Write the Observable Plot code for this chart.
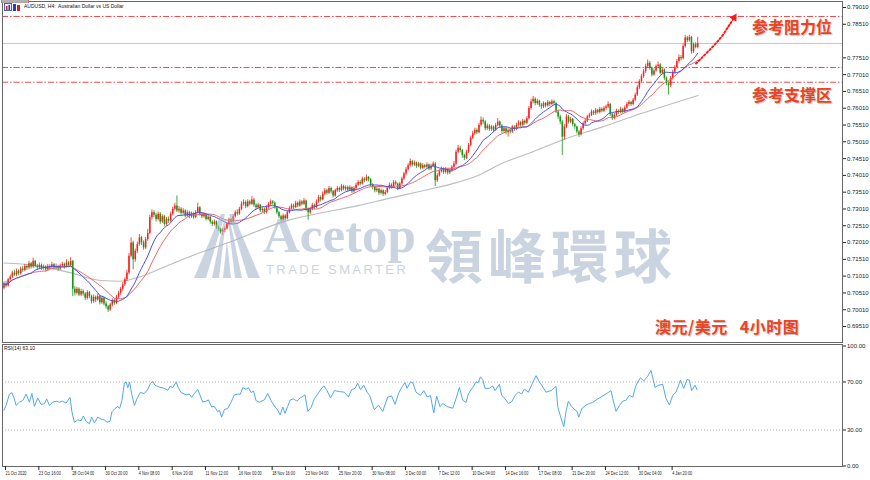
<!DOCTYPE html>
<html><head><meta charset="utf-8">
<script src="https://cdn.jsdelivr.net/npm/d3@7"></script>
<script src="https://cdn.jsdelivr.net/npm/@observablehq/plot@0.6"></script>
<style>
body{margin:0;background:#fff;}
#wrap{position:relative;width:870px;height:480px;overflow:hidden;font-family:"Liberation Sans",Arial,sans-serif;background:#fff;}
#main,#rsi{position:absolute;left:0;}
#main{top:0;} #rsi{top:342px;}
.ov{position:absolute;white-space:nowrap;line-height:1;}
.cn{font-family:"Noto Sans CJK SC",sans-serif;font-weight:700;color:#ee4322;text-shadow:1px 1px 1px rgba(0,0,0,.25);}
.sq{transform:scaleX(0.86);transform-origin:0 0;}
#wm{position:absolute;left:0;top:0;width:870px;height:340px;opacity:.55;pointer-events:none;}
</style></head><body><div id="wrap">
<div id="main"></div><div id="rsi"></div>
<div id="wm">
  <svg class="ov" style="left:192px;top:210px" width="70" height="70" viewBox="0 0 70 70">
    <g fill="#9fb2c8">
      <polygon points="2,68 14,68 33,4 29,4"/>
      <polygon points="68,68 56,68 37,4 41,4"/>
      <polygon points="20,68 27,68 34,10 32,10"/>
      <polygon points="50,68 43,68 36,10 38,10"/>
      <polygon points="31,68 39,68 35,30"/>
    </g>
  </svg>
  <div class="ov" style="left:263px;top:206px;font:bold 51px 'Liberation Serif',serif;color:#9fb2c8;">Acetop</div>
  <div class="ov" style="left:425px;top:211px;font:700 58px 'Noto Sans CJK TC',sans-serif;color:#9fb2c8;letter-spacing:5px;">領峰環球</div>
  <div class="ov" style="left:266px;top:262px;font:13px 'Liberation Sans',sans-serif;color:#9fb2c8;letter-spacing:2.4px;">TRADE SMARTER</div>
</div>
<svg class="ov" style="left:4px;top:3px" width="17" height="9"><rect x="0.5" y="0.5" width="7" height="7" fill="#e8e8ff" stroke="#5060c0"/><rect x="2" y="3" width="1.5" height="4" fill="#d02020"/><rect x="4.5" y="2" width="1.5" height="5" fill="#2040c0"/><rect x="9" y="1" width="3" height="7" fill="#2040c0"/><rect x="13" y="2" width="3" height="6" fill="#d02020"/></svg>
<div class="ov sq" style="left:24px;top:4px;font-size:5.8px;color:#111;">AUDUSD, H4:&nbsp; Australian Dollar vs US Dollar</div>
<div class="ov sq" style="left:4px;top:346px;font-size:5.8px;color:#111;">RSI(14) 63.10</div>
<div class="ov cn" style="left:752px;top:18px;font-size:16px;">参考阻力位</div>
<div class="ov cn" style="left:752px;top:86px;font-size:16px;">参考支撑区</div>
<div class="ov cn" style="left:655px;top:318px;font-size:16px;letter-spacing:0.5px;">澳元/美元<span style="display:inline-block;width:12px"></span>4小时图</div>
</div>
<script>
const firstOpen = 0.7065;
const closes = [0.7078,0.7072,0.7090,0.7098,0.7110,0.7104,0.7115,0.7108,0.7122,0.7118,
0.7130,0.7125,0.7138,0.7128,0.7145,0.7130,0.7126,0.7133,0.7124,0.7128,
0.7120,0.7130,0.7127,0.7135,0.7126,0.7130,0.7122,0.7131,0.7136,0.7128,
0.7140,0.7132,0.7145,0.7062,0.7050,0.7062,0.7045,0.7055,0.7048,0.7035,
0.7052,0.7040,0.7025,0.7038,0.7030,0.7040,0.7022,0.7035,0.7018,0.7010,
0.7000,0.7015,0.7028,0.7020,0.7038,0.7050,0.7062,0.7075,0.7090,0.7110,
0.7160,0.7200,0.7150,0.7175,0.7195,0.7215,0.7200,0.7185,0.7210,0.7228,
0.7275,0.7290,0.7282,0.7270,0.7285,0.7262,0.7278,0.7255,0.7270,0.7265,
0.7285,0.7300,0.7310,0.7295,0.7300,0.7288,0.7295,0.7280,0.7290,0.7278,
0.7286,0.7275,0.7290,0.7305,0.7285,0.7278,0.7284,0.7270,0.7276,0.7262,
0.7255,0.7262,0.7245,0.7240,0.7232,0.7238,0.7242,0.7255,0.7268,0.7262,
0.7278,0.7290,0.7286,0.7300,0.7315,0.7320,0.7308,0.7322,0.7315,0.7328,
0.7312,0.7305,0.7312,0.7296,0.7300,0.7290,0.7305,0.7315,0.7322,0.7318,
0.7305,0.7290,0.7278,0.7268,0.7280,0.7272,0.7290,0.7302,0.7310,0.7305,
0.7318,0.7310,0.7322,0.7315,0.7325,0.7300,0.7290,0.7300,0.7312,0.7305,
0.7322,0.7335,0.7328,0.7345,0.7355,0.7348,0.7362,0.7352,0.7340,0.7355,
0.7362,0.7356,0.7368,0.7360,0.7365,0.7357,0.7364,0.7352,0.7362,0.7372,
0.7380,0.7375,0.7390,0.7385,0.7395,0.7388,0.7372,0.7365,0.7355,0.7360,
0.7348,0.7355,0.7345,0.7350,0.7362,0.7372,0.7365,0.7380,0.7375,0.7362,
0.7375,0.7390,0.7405,0.7418,0.7430,0.7442,0.7432,0.7438,0.7428,0.7435,
0.7422,0.7430,0.7425,0.7432,0.7420,0.7428,0.7435,0.7385,0.7400,0.7412,
0.7420,0.7410,0.7418,0.7408,0.7415,0.7425,0.7435,0.7470,0.7482,0.7475,
0.7460,0.7452,0.7470,0.7490,0.7512,0.7525,0.7535,0.7528,0.7550,0.7565,
0.7560,0.7540,0.7548,0.7538,0.7545,0.7535,0.7550,0.7560,0.7548,0.7532,
0.7540,0.7528,0.7535,0.7530,0.7545,0.7538,0.7550,0.7558,0.7550,0.7562,
0.7556,0.7570,0.7600,0.7620,0.7628,0.7615,0.7622,0.7610,0.7605,0.7615,
0.7608,0.7618,0.7612,0.7620,0.7615,0.7590,0.7575,0.7560,0.7515,0.7545,
0.7575,0.7560,0.7568,0.7552,0.7545,0.7530,0.7522,0.7540,0.7555,0.7562,
0.7575,0.7580,0.7590,0.7585,0.7595,0.7588,0.7598,0.7592,0.7600,0.7605,
0.7612,0.7582,0.7570,0.7580,0.7592,0.7588,0.7598,0.7590,0.7602,0.7612,
0.7618,0.7612,0.7625,0.7640,0.7662,0.7680,0.7695,0.7710,0.7725,0.7735,
0.7720,0.7700,0.7712,0.7725,0.7730,0.7705,0.7715,0.7690,0.7675,0.7668,
0.7690,0.7708,0.7722,0.7740,0.7752,0.7748,0.7785,0.7810,0.7802,0.7812,
0.7770,0.7790,0.7782,0.7794];
const highs = [0.7084,0.7086,0.7094,0.7104,0.7116,0.7118,0.7122,0.7120,0.7128,0.7130,
0.7136,0.7134,0.7145,0.7142,0.7155,0.7148,0.7136,0.7140,0.7137,0.7134,
0.7132,0.7136,0.7135,0.7142,0.7138,0.7137,0.7133,0.7137,0.7142,0.7140,
0.7150,0.7145,0.7156,0.7148,0.7070,0.7068,0.7066,0.7062,0.7060,0.7052,
0.7058,0.7055,0.7044,0.7045,0.7042,0.7048,0.7043,0.7040,0.7038,0.7025,
0.7014,0.7020,0.7034,0.7032,0.7044,0.7056,0.7068,0.7082,0.7096,0.7118,
0.7168,0.7215,0.7205,0.7182,0.7202,0.7225,0.7220,0.7206,0.7216,0.7240,
0.7282,0.7298,0.7296,0.7288,0.7292,0.7290,0.7284,0.7282,0.7276,0.7277,
0.7292,0.7306,0.7318,0.7340,0.7308,0.7305,0.7302,0.7298,0.7296,0.7294,
0.7292,0.7290,0.7296,0.7318,0.7308,0.7290,0.7290,0.7287,0.7282,0.7279,
0.7266,0.7268,0.7265,0.7250,0.7244,0.7243,0.7248,0.7260,0.7274,0.7273,
0.7284,0.7296,0.7298,0.7306,0.7322,0.7328,0.7325,0.7328,0.7327,0.7338,
0.7332,0.7316,0.7318,0.7315,0.7306,0.7304,0.7310,0.7320,0.7328,0.7326,
0.7322,0.7308,0.7294,0.7282,0.7286,0.7284,0.7295,0.7308,0.7316,0.7315,
0.7324,0.7322,0.7328,0.7326,0.7332,0.7328,0.7304,0.7306,0.7318,0.7316,
0.7328,0.7342,0.7340,0.7352,0.7362,0.7360,0.7368,0.7366,0.7356,0.7360,
0.7368,0.7366,0.7374,0.7372,0.7370,0.7369,0.7370,0.7367,0.7368,0.7378,
0.7386,0.7385,0.7396,0.7394,0.7402,0.7398,0.7392,0.7376,0.7368,0.7366,
0.7363,0.7360,0.7358,0.7356,0.7368,0.7378,0.7376,0.7386,0.7385,0.7378,
0.7380,0.7396,0.7410,0.7424,0.7436,0.7450,0.7446,0.7444,0.7441,0.7440,
0.7438,0.7436,0.7434,0.7438,0.7435,0.7434,0.7441,0.7440,0.7406,0.7418,
0.7426,0.7424,0.7424,0.7421,0.7420,0.7430,0.7442,0.7476,0.7490,0.7488,
0.7478,0.7464,0.7476,0.7496,0.7518,0.7532,0.7542,0.7540,0.7556,0.7575,
0.7572,0.7564,0.7554,0.7552,0.7550,0.7548,0.7556,0.7570,0.7563,0.7552,
0.7546,0.7544,0.7540,0.7541,0.7550,0.7549,0.7556,0.7564,0.7562,0.7568,
0.7566,0.7576,0.7606,0.7628,0.7636,0.7632,0.7628,0.7625,0.7615,0.7620,
0.7618,0.7624,0.7622,0.7626,0.7625,0.7618,0.7594,0.7580,0.7565,0.7552,
0.7582,0.7580,0.7574,0.7571,0.7556,0.7548,0.7535,0.7546,0.7560,0.7568,
0.7580,0.7586,0.7596,0.7594,0.7600,0.7598,0.7604,0.7602,0.7606,0.7610,
0.7620,0.7615,0.7586,0.7586,0.7598,0.7596,0.7604,0.7601,0.7608,0.7618,
0.7624,0.7622,0.7630,0.7646,0.7668,0.7686,0.7702,0.7716,0.7732,0.7745,
0.7740,0.7724,0.7718,0.7730,0.7738,0.7734,0.7720,0.7718,0.7694,0.7680,
0.7696,0.7714,0.7728,0.7746,0.7760,0.7758,0.7792,0.7818,0.7815,0.7818,
0.7815,0.7795,0.7796,0.7812];
const lows = [0.7060,0.7066,0.7068,0.7086,0.7094,0.7100,0.7100,0.7102,0.7104,0.7112,
0.7114,0.7118,0.7120,0.7122,0.7124,0.7126,0.7118,0.7120,0.7118,0.7119,
0.7114,0.7116,0.7121,0.7123,0.7120,0.7121,0.7116,0.7118,0.7126,0.7122,
0.7125,0.7127,0.7128,0.7040,0.7042,0.7045,0.7040,0.7040,0.7041,0.7028,
0.7030,0.7034,0.7018,0.7020,0.7022,0.7026,0.7015,0.7017,0.7012,0.7003,
0.6993,0.6996,0.7010,0.7014,0.7016,0.7032,0.7044,0.7056,0.7070,0.7085,
0.7105,0.7155,0.7120,0.7142,0.7168,0.7190,0.7192,0.7178,0.7180,0.7205,
0.7224,0.7268,0.7275,0.7262,0.7265,0.7255,0.7258,0.7248,0.7250,0.7258,
0.7260,0.7280,0.7295,0.7290,0.7288,0.7282,0.7283,0.7274,0.7276,0.7272,
0.7273,0.7270,0.7272,0.7286,0.7280,0.7272,0.7273,0.7265,0.7266,0.7256,
0.7249,0.7250,0.7240,0.7234,0.7226,0.7222,0.7230,0.7238,0.7250,0.7256,
0.7258,0.7274,0.7280,0.7282,0.7296,0.7310,0.7302,0.7304,0.7310,0.7312,
0.7306,0.7298,0.7300,0.7290,0.7290,0.7284,0.7286,0.7300,0.7310,0.7312,
0.7300,0.7284,0.7272,0.7262,0.7264,0.7266,0.7268,0.7286,0.7298,0.7299,
0.7302,0.7305,0.7306,0.7310,0.7311,0.7294,0.7267,0.7284,0.7296,0.7299,
0.7302,0.7318,0.7322,0.7325,0.7340,0.7342,0.7344,0.7346,0.7334,0.7336,
0.7350,0.7350,0.7352,0.7355,0.7354,0.7352,0.7353,0.7347,0.7348,0.7358,
0.7368,0.7369,0.7372,0.7379,0.7382,0.7382,0.7366,0.7358,0.7349,0.7350,
0.7342,0.7343,0.7338,0.7340,0.7346,0.7358,0.7360,0.7362,0.7370,0.7356,
0.7358,0.7372,0.7386,0.7400,0.7414,0.7426,0.7426,0.7427,0.7422,0.7424,
0.7417,0.7418,0.7420,0.7421,0.7415,0.7416,0.7424,0.7368,0.7380,0.7396,
0.7408,0.7404,0.7405,0.7402,0.7404,0.7410,0.7420,0.7430,0.7465,0.7468,
0.7452,0.7445,0.7448,0.7466,0.7486,0.7508,0.7520,0.7522,0.7525,0.7545,
0.7552,0.7534,0.7535,0.7532,0.7532,0.7528,0.7532,0.7546,0.7542,0.7526,
0.7528,0.7522,0.7515,0.7524,0.7526,0.7532,0.7534,0.7545,0.7544,0.7546,
0.7550,0.7552,0.7566,0.7595,0.7614,0.7608,0.7610,0.7604,0.7598,0.7600,
0.7602,0.7604,0.7606,0.7608,0.7610,0.7585,0.7568,0.7552,0.7460,0.7505,
0.7540,0.7554,0.7555,0.7546,0.7538,0.7524,0.7514,0.7518,0.7535,0.7550,
0.7558,0.7570,0.7576,0.7579,0.7580,0.7583,0.7584,0.7587,0.7588,0.7595,
0.7600,0.7576,0.7564,0.7566,0.7576,0.7582,0.7584,0.7585,0.7586,0.7598,
0.7606,0.7606,0.7608,0.7620,0.7636,0.7656,0.7675,0.7690,0.7705,0.7720,
0.7714,0.7694,0.7696,0.7708,0.7720,0.7700,0.7700,0.7684,0.7668,0.7640,
0.7662,0.7685,0.7703,0.7718,0.7735,0.7742,0.7745,0.7780,0.7796,0.7798,
0.7762,0.7764,0.7778,0.7778];
const grayBar = [0,14.4,30.7,46.6,56.2,65.8,78.7,94.6,110.4,126.7,136.3,153.6,170,185.8,201.6,218,227.6,238.6,253,267.4,286.6,305.8,333.2];
const grayVal = [0.7140,0.7133,0.7113,0.7088,0.7086,0.7100,0.7133,0.7172,0.7207,0.7247,0.7267,0.7291,0.7311,0.7334,0.7356,0.7381,0.7401,0.7436,0.7469,0.7505,0.7544,0.7585,0.7639];
const rsiBar = [0,1,2.6,3.7,5,5.8,7.4,9,10.6,12.2,13.4,14.6,16.2,17.8,19.4,20.5,21.8,23.4,25,26.6,28.2,29.8,31.7,32.6,33.8,35.4,37,38.1,39.4,41,42.1,43.4,45,46.6,48.2,49.4,50.9,51.8,53.3,54.6,55.5,56.6,57.8,58.7,59.4,60.3,61.3,62.6,63.8,65.4,67.4,69,70.2,71.4,72.5,74.6,77,78.6,79.8,81,82.6,83.7,85,87.4,89,90.1,91.4,93,94.2,95.4,97,98.1,99.7,101,102.6,103.4,104.5,105.8,107.4,109,110.6,112.2,113.4,114.6,116.2,117.3,118.6,119.8,121,122.6,125,126.6,128.2,130.1,131.4,132.6,133.8,134.9,136.2,137.4,139,140.6,142.2,
144.5,145.8,147.4,149,150.6,152.2,153.5,155.1,156.7,158.6,161,163.4,165.3,166.9,168.5,169.8,171.1,172.7,174.3,175.5,177.8,179.7,181.8,184.2,186.1,187.7,189.3,190.9,192.5,193.5,195.1,196.2,197.8,199.9,201.5,203.1,204.7,206.3,207.7,209.3,210.6,212.7,215.4,217,218.6,220.2,221.8,222.9,225,226.6,227.7,228.7,229.8,230.9,233,234.6,235.7,237.8,238.9,240.5,242.1,243.7,245.3,246.9,248.5,249.8,251.7,253.8,255.4,257,258.1,260.2,262.6,265,265.8,267.1,268.7,269.8,270.9,272.5,274.1,275.1,275.9,277.5,279.4,281,282.6,284.7,286.6,289,291.4,292.2,293.8,295.4,297,298.6,300.2,301.8,303.4,305.5,307.1,309,310.6,312.5,314.1,316.2,317.8,319.4,321,322.6,324.7,326.3,327.9,329,330.1,331.7,332.7];
const rsiVal = [46.5,50.5,59.9,61.2,55.9,50.5,53.2,54.5,59.9,53.2,60.4,49.7,56.7,51.3,51.9,55.9,50.5,53.2,54,53.2,54,52.4,57.2,45.2,36.4,38.5,37.7,41.7,37.2,35.3,40.7,35.9,40.7,39.1,38.5,36.4,37.2,45.2,47.9,49.7,47.9,54.5,69.2,70,65.2,70,59.9,50.5,55.9,61.2,60.4,63.9,68.4,70.5,67.3,65.7,64.7,63.1,66.5,65.2,70,65.2,61.2,59.3,59.9,57.2,60.4,63.9,58.5,53.2,54,55.1,49.2,49.7,45.2,46.5,40.7,47.1,47.9,53.2,59.3,59.9,59.9,65.2,63.9,65.2,61.2,62.5,54.5,53.2,55.1,60.4,54.5,49.2,46.5,42.5,49.2,43.9,49.7,55.1,55.9,54,56.7,
59.3,45.5,48.7,56.1,60.1,64.1,66.8,62.8,56.7,62.8,62,61.5,57.5,63.6,64.7,68.9,63.6,67.3,61.5,58.8,46.8,50.8,45.5,57.5,58.3,51.3,60.1,65.5,69.5,64.7,70,69.5,61.5,58.8,62.8,57.5,58.8,44.1,58.3,49.5,52.1,49.5,48.1,56.1,65.5,54.8,52.9,60.1,65.5,70,69.5,74.3,72.1,64.7,64.7,66.8,62.8,68.1,58.8,56.1,52.1,53.5,58.8,61.5,60.1,64.1,61.5,69.5,75.3,70,67.3,61.5,62.8,66.3,49.5,41.5,32.7,45.5,54,49.5,46.8,45.5,40.7,48.1,50.8,52.1,52.9,55.6,57.5,60.1,62.8,56.1,45.5,50.3,54,54.8,58.8,57.5,67.3,73.5,70.8,74.8,79.6,65.5,67.3,68.1,56.1,50.8,58.8,61.5,71.6,64.7,72.1,71.6,62.8,67.3,63.6];
const levelPrices = [0.78742, 0.77224, 0.76784];
const bidPrice = 0.77940;
const arrowBar = [332.2, 334.6, 339.4, 344.2, 348, 350.5];
const arrowPrice = [0.7734, 0.7749, 0.7779, 0.7812, 0.7847, 0.7871];
const priceTicks = [0.69510,0.70010,0.70510,0.71010,0.71510,0.72010,0.72510,0.73010,0.73510,0.74010,0.74510,0.75010,0.75510,0.76010,0.76510,0.77010,0.77510,0.78510,0.79010];
const rsiTicks = [0, 30, 70, 100];
const rsiLevels = [30, 70];
const xTickBars = [0,16,32,48,64,80,96,112,128,144,160,176,192,208,224,240,256,272,288,304,320];
const xTickLabels = ["21 Oct 2020","23 Oct 16:00","28 Oct 04:00","30 Oct 20:00","4 Nov 08:00","6 Nov 20:00","11 Nov 12:00","16 Nov 00:00","18 Nov 16:00","23 Nov 04:00","25 Nov 20:00","30 Nov 08:00","3 Dec 00:00","7 Dec 12:00","10 Dec 04:00","14 Dec 16:00","17 Dec 08:00","21 Dec 20:00","24 Dec 12:00","30 Dec 04:00","4 Jan 20:00"];

const bars = closes.map((c, i) => {
  const o = i ? closes[i - 1] : firstOpen;
  return {i, open: o, close: c, high: highs[i], low: lows[i], up: c >= o};
});
function sma(n) {
  return closes.map((_, i) => ({i, v: d3.mean(closes.slice(Math.max(0, i - n + 1), i + 1))}));
}
const maBlue = sma(14), maRed = sma(21);
const grayMA = grayBar.map((b, k) => ({b, v: grayVal[k]}));
const rsi = rsiBar.map((b, k) => ({b, v: rsiVal[k]}));
const arrow = arrowBar.map((b, k) => ({b, v: arrowPrice[k]}));

const RED = "#ff1c1c", GREEN = "#139613";
const xDomain = [-0.72, 402.5];
const fmt5 = d3.format(".5f");
const font = "Liberation Sans, Arial, sans-serif";

const main = Plot.plot({
  width: 870, height: 344, marginLeft: 2, marginRight: 28, marginTop: 1, marginBottom: 2,
  x: {domain: xDomain, axis: null},
  y: {domain: [0.69034, 0.79188], axis: null},
  style: {background: "transparent", fontFamily: font, overflow: "visible"},
  marks: [
    Plot.ruleY([bidPrice], {stroke: "#c4c4c4", strokeWidth: 1}),
    Plot.ruleY(levelPrices, {stroke: "#f04848", strokeWidth: 1, strokeDasharray: "6,2,1.5,2"}),
    Plot.line(grayMA, {x: "b", y: "v", stroke: "#bcbcbc", strokeWidth: 1.1, curve: "monotone-x"}),
    Plot.ruleX(bars, {x: "i", y1: "low", y2: "high", stroke: d => d.up ? RED : GREEN, strokeWidth: 0.8}),
    Plot.ruleX(bars, {x: "i", y1: "open", y2: "close", stroke: d => d.up ? RED : GREEN, strokeWidth: 1.5}),
    Plot.line(maRed, {x: "i", y: "v", stroke: "#f06464", strokeWidth: 1}),
    Plot.line(maBlue, {x: "i", y: "v", stroke: "#4652ee", strokeWidth: 1}),
    Plot.line(arrow, {x: "b", y: "v", stroke: "#ff1a1a", strokeWidth: 2, strokeDasharray: "1.6,2.2", curve: "catmull-rom"}),
    Plot.dot(arrow.slice(-1), {x: "b", y: "v", symbol: "triangle", rotate: 32, r: 3, fill: "#ff1a1a"}),
    Plot.frame({stroke: "#666"}),
    Plot.axisY(priceTicks, {anchor: "right", label: null, tickSize: 3, tickPadding: 1.5, fontSize: 6, tickFormat: fmt5, color: "#222", className: "yax"}),
    Plot.text(levelPrices, {y: d => d, text: d => fmt5(d), frameAnchor: "right", dx: 2, textAnchor: "start", fill: "#fff", fontSize: 6, className: "lvlR"}),
    Plot.text([bidPrice], {y: d => d, text: d => fmt5(d), frameAnchor: "right", dx: 2, textAnchor: "start", fill: "#fff", fontSize: 6, className: "lvlG"})
  ]
});
document.getElementById("main").appendChild(main);

const rsiPlot = Plot.plot({
  width: 870, height: 138, marginLeft: 2, marginRight: 28, marginTop: 2, marginBottom: 14,
  x: {domain: xDomain, axis: null},
  y: {domain: [-0.42, 101.25], axis: null},
  style: {background: "transparent", fontFamily: font, overflow: "visible"},
  marks: [
    Plot.ruleY(rsiLevels, {stroke: "#b4b4b4", strokeDasharray: "1,2"}),
    Plot.line(rsi, {x: "b", y: "v", stroke: "#52a6f5", strokeWidth: 1}),
    Plot.frame({stroke: "#666"}),
    Plot.axisY(rsiTicks, {anchor: "right", label: null, tickSize: 3, tickPadding: 1.5, fontSize: 6, tickFormat: d3.format(".2f"), color: "#222"}),
    Plot.axisX(xTickBars, {anchor: "bottom", label: null, tickSize: 4, tickPadding: 1, fontSize: 5.5, textAnchor: "start", dx: 1.5,
      tickFormat: d => xTickLabels[xTickBars.indexOf(d)], color: "#222", className: "xax"})
  ]
});
document.getElementById("rsi").appendChild(rsiPlot);

// condense the small MT4-style time labels so each fits in its slot
d3.select(rsiPlot).selectAll("g.xax text").each(function() {
  const w = this.getComputedTextLength();
  d3.select(this).attr("textLength", w * 0.7).attr("lengthAdjust", "spacingAndGlyphs");
});

// background boxes behind the price labels on the right axis
function boxes(cls, fill) {
  d3.select(main).selectAll(`g.${cls} text`).each(function() {
    const b = this.getBBox();
    d3.select(this.parentNode).insert("rect", () => this)
      .attr("x", b.x - 1).attr("y", b.y + 0.5).attr("width", 27).attr("height", b.height - 1).attr("fill", fill);
  });
}
boxes("lvlR", "#ff1010");
boxes("lvlG", "#b0b0b0");
</script>
</body></html>
